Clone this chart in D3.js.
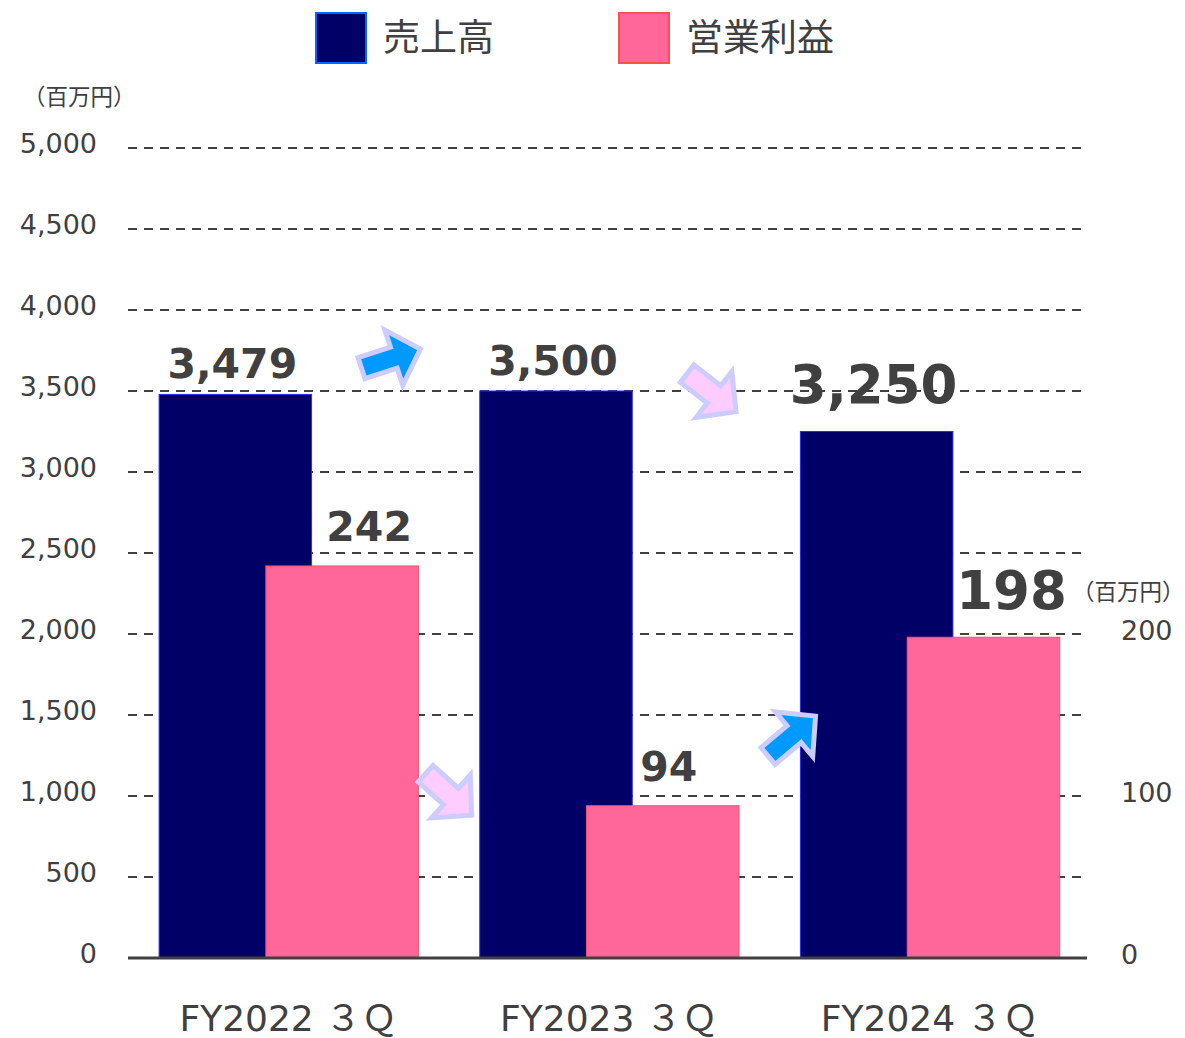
<!DOCTYPE html>
<html>
<head>
<meta charset="utf-8">
<script src="https://cdn.jsdelivr.net/npm/d3@7"></script>
<style>
  body { margin: 0; background: #fff; }
  text { font-family: "DejaVu Sans", "Noto Sans CJK JP", sans-serif; fill: #404040; }
  .jp { font-family: "Noto Sans CJK JP", sans-serif; }
</style>
</head>
<body>
<div id="chart"></div>
<script>
(function () {
  // data
  let categories = ['FY2022 ３Ｑ', 'FY2023 ３Ｑ', 'FY2024 ３Ｑ'];
  let sales = [3479, 3500, 3250];
  let profit = [242, 94, 198];
  let leftTicks = [0, 500, 1000, 1500, 2000, 2500, 3000, 3500, 4000, 4500, 5000];
  let rightTicks = [0, 100, 200];
  let seriesNames = ['売上高', '営業利益'];
  let unitLabel = '（百万円）';

  let width = 1185,
    height = 1038;

  let svg = d3.select('#chart').append('svg')
    .attr('width', width)
    .attr('height', height);

  let x = d3.scaleBand()
    .domain(categories)
    .range([128, 1090]);
  let bw = x.bandwidth();

  let yL = d3.scaleLinear().domain([0, 5000]).range([958, 148]);
  let yR = d3.scaleLinear().domain([0, 500]).range([958, 148]);

  let barW = bw * 0.4755;
  let salesX = (c) => x(c) + bw * 0.097;
  let profitX = (c) => x(c) + bw * 0.43;

  // grid
  svg.append('g').selectAll('line.grid')
    .data(leftTicks.filter((d) => d > 0)).enter()
    .append('line')
    .attr('class', 'grid')
    .attr('x1', 128)
    .attr('x2', 1085)
    .attr('y1', (d) => yL(d))
    .attr('y2', (d) => yL(d))
    .attr('stroke', '#404040')
    .attr('stroke-width', 2)
    .attr('stroke-dasharray', '9,7');

  // left axis
  let leftAxis = d3.axisLeft(yL).tickValues(leftTicks).tickSize(0).tickPadding(0)
    .tickFormat(d3.format(','));
  let gL = svg.append('g').attr('transform', 'translate(97,0)').call(leftAxis);
  gL.select('.domain').remove();
  gL.selectAll('text')
    .attr('font-family', null)
    .style('font-size', '27px')
    .attr('dy', '0.18em');

  // right axis
  let rightAxis = d3.axisRight(yR).tickValues(rightTicks).tickSize(0).tickPadding(0);
  let gR = svg.append('g').attr('transform', 'translate(1121,0)').call(rightAxis);
  gR.select('.domain').remove();
  gR.selectAll('text')
    .attr('font-family', null)
    .style('font-size', '27px')
    .attr('dy', '0.2em');

  // unit labels
  svg.append('text').attr('class', 'jp')
    .attr('x', 23).attr('y', 105)
    .style('font-size', '22.5px')
    .text(unitLabel);
  svg.append('text').attr('class', 'jp')
    .attr('x', 1072).attr('y', 600)
    .style('font-size', '22.5px')
    .text(unitLabel);

  // bars
  svg.append('g').selectAll('rect.sales')
    .data(sales).enter()
    .append('rect')
    .attr('class', 'sales')
    .attr('x', (d, i) => salesX(categories[i]))
    .attr('y', (d) => yL(d))
    .attr('width', barW)
    .attr('height', (d) => yL(0) - yL(d))
    .attr('fill', '#000066')
    .attr('stroke', '#2a2aff')
    .attr('stroke-width', 1);

  svg.append('g').selectAll('rect.profit')
    .data(profit).enter()
    .append('rect')
    .attr('class', 'profit')
    .attr('x', (d, i) => profitX(categories[i]))
    .attr('y', (d) => yR(d))
    .attr('width', barW)
    .attr('height', (d) => yR(0) - yR(d))
    .attr('fill', '#ff6699')
    .attr('stroke', '#ff5060')
    .attr('stroke-width', 1);

  // baseline
  svg.append('line')
    .attr('x1', 128).attr('x2', 1087)
    .attr('y1', yL(0)).attr('y2', yL(0))
    .attr('stroke', '#404040')
    .attr('stroke-width', 3);

  // value labels
  let fmt = d3.format(',');
  let big = (i) => i === categories.length - 1;
  let profitLabelDx = [27, 6, 28];

  svg.append('g').selectAll('text.sv')
    .data(sales).enter()
    .append('text')
    .attr('class', 'sv')
    .attr('x', (d, i) => salesX(categories[i]) + barW / 2 - 3)
    .attr('y', (d, i) => yL(d) - (big(i) ? 29 : 16))
    .attr('text-anchor', 'middle')
    .style('font-weight', 'bold')
    .style('font-size', (d, i) => big(i) ? '53px' : '41px')
    .text((d) => fmt(d));

  svg.append('g').selectAll('text.pv')
    .data(profit).enter()
    .append('text')
    .attr('class', 'pv')
    .attr('x', (d, i) => profitX(categories[i]) + barW / 2 + profitLabelDx[i])
    .attr('y', (d, i) => yR(d) - (big(i) ? 28 : 25))
    .attr('text-anchor', 'middle')
    .style('font-weight', 'bold')
    .style('font-size', (d, i) => big(i) ? '53px' : '41px')
    .text((d) => fmt(d));

  // category labels
  svg.append('g').selectAll('text.cat')
    .data(categories).enter()
    .append('text')
    .attr('class', 'cat')
    .attr('x', (d) => x(d) + bw / 2)
    .attr('y', 1031)
    .attr('text-anchor', 'middle')
    .style('font-size', '36px')
    .text((d) => d);

  // legend
  let legendColors = [['#000066', '#0066ff'], ['#ff6699', '#ff5050']];
  let legendX = [316, 619];
  let lg = svg.append('g').selectAll('g.leg')
    .data(seriesNames).enter()
    .append('g')
    .attr('class', 'leg')
    .attr('transform', (d, i) => 'translate(' + legendX[i] + ',13)');
  lg.append('rect')
    .attr('width', 50).attr('height', 50)
    .attr('fill', (d, i) => legendColors[i][0])
    .attr('stroke', (d, i) => legendColors[i][1])
    .attr('stroke-width', 2);
  lg.append('text')
    .attr('class', 'jp')
    .attr('x', 67).attr('y', 38)
    .style('font-size', '37px')
    .text((d) => d);

  // change arrows (pos on a continuous category axis + left-axis value)
  let xc = d3.scaleLinear().domain([0, 3]).range([128, 1090]);
  let arrows = [
    { at: 0.82, v: 3700, rot: -18, up: true },
    { at: 1.82, v: 3490, rot: 38, up: false },
    { at: 1.0, v: 1010, rot: 42, up: false },
    { at: 2.07, v: 1370, rot: -40, up: true }
  ];
  let arrowPath = 'M-31,-11 L3,-11 L3,-29 L31,0 L3,29 L3,11 L-31,11 Z';
  svg.append('g').selectAll('path.arrow')
    .data(arrows).enter()
    .append('path')
    .attr('class', 'arrow')
    .attr('d', arrowPath)
    .attr('transform', (d) => 'translate(' + xc(d.at) + ',' + yL(d.v) + ') rotate(' + d.rot + ')')
    .attr('fill', (d) => d.up ? '#0099ff' : '#ffccff')
    .attr('stroke', '#ccccff')
    .attr('stroke-width', 5)
    .attr('stroke-linejoin', 'miter');
})();
</script>
</body>
</html>
